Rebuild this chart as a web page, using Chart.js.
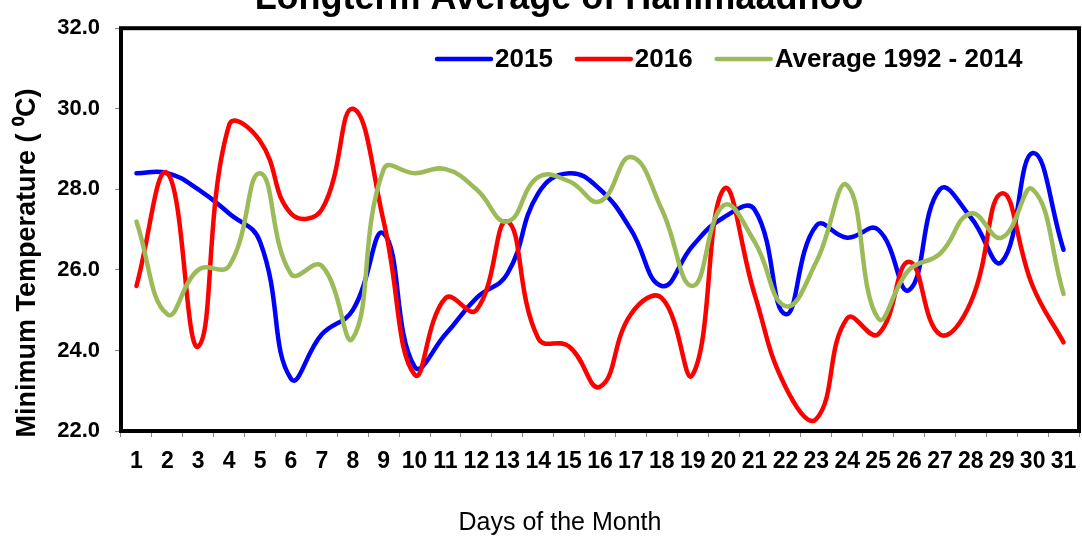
<!DOCTYPE html>
<html>
<head>
<meta charset="utf-8">
<script src="https://cdn.jsdelivr.net/npm/chart.js@4"></script>
<style>
  html, body { margin: 0; padding: 0; background: #fff; }
  #wrap { width: 1082px; height: 537px; }
</style>
</head>
<body>
<div id="wrap"><canvas id="tempChart" width="1082" height="537"></canvas></div>
<script>
const days = ["1", "2", "3", "4", "5", "6", "7", "8", "9", "10", "11", "12", "13", "14", "15", "16",
              "17", "18", "19", "20", "21", "22", "23", "24", "25", "26", "27", "28", "29", "30", "31"];

const temp2015 = [28.4, 28.4, 28.0, 27.4, 26.7, 23.3, 24.4, 25.0, 26.9, 23.6, 24.4, 25.3, 25.9, 27.9, 28.4, 28.0,
                  27.0, 25.6, 26.6, 27.3, 27.5, 24.9, 27.1, 26.8, 27.0, 25.5, 28.0, 27.3, 26.2, 28.9, 26.5];

const temp2016 = [25.6, 28.4, 24.1, 29.6, 29.2, 27.4, 27.5, 30.0, 27.2, 23.4, 25.3, 25.0, 27.2, 24.3, 24.1, 23.1,
                  24.9, 25.3, 23.4, 28.0, 25.4, 23.1, 22.3, 24.8, 24.4, 26.2, 24.4, 25.2, 27.9, 25.6, 24.2];

const tempAverage = [27.2, 24.9, 26.0, 26.1, 28.4, 25.9, 26.1, 24.3, 28.5, 28.4, 28.5, 28.0, 27.2, 28.3, 28.2, 27.7,
                     28.8, 27.5, 25.6, 27.6, 26.7, 25.1, 26.2, 28.1, 24.8, 26.0, 26.4, 27.4, 26.8, 28.0, 25.4];

const chartTitle = "Longterm Average of Hanimaadhoo";
const yTitle = "Minimum Temperature ( \u2070C)";
const xTitle = "Days of the Month";

const FONT = "'Liberation Sans', Arial, sans-serif";

// titles, legend and plot frame are drawn by hand (Excel-like placement)
const extras = {
    id: "extras",
    afterDraw(chart) {
        const { ctx, chartArea } = chart;
        ctx.save();

        ctx.strokeStyle = "#000";
        ctx.lineWidth = 4;
        ctx.strokeRect(chartArea.left, chartArea.top, chartArea.right - chartArea.left, chartArea.bottom - chartArea.top);

        // legend inside the plot, top right
        ctx.font = "bold 26px " + FONT;
        ctx.textAlign = "left";
        ctx.textBaseline = "middle";
        ctx.lineCap = "round";
        let x = 437;
        const y = 59;
        chart.data.datasets.forEach(ds => {
            ctx.strokeStyle = ds.borderColor;
            ctx.lineWidth = 4.5;
            ctx.beginPath();
            ctx.moveTo(x, y);
            ctx.lineTo(x + 54, y);
            ctx.stroke();
            ctx.fillStyle = "#000";
            ctx.fillText(ds.label, x + 58, y + 1);
            x += 58 + ctx.measureText(ds.label).width + 24;
        });

        ctx.fillStyle = "#000";
        ctx.textAlign = "center";
        ctx.textBaseline = "alphabetic";
        ctx.font = "bold 36px " + FONT;
        ctx.fillText(chartTitle, 559, 9);

        ctx.font = "25px " + FONT;
        ctx.fillText(xTitle, 560, 530);

        ctx.translate(28, 263);
        ctx.rotate(-Math.PI / 2);
        ctx.textBaseline = "middle";
        ctx.font = "bold 27px " + FONT;
        ctx.fillText(yTitle, 0, 0);

        ctx.restore();
    }
};

const ctx = document.getElementById("tempChart");

new Chart(ctx, {
    type: "line",
    data: {
        labels: days,
        datasets: [
            {
                label: "2015",
                data: temp2015,
                borderColor: "#0000FF",
                order: 3
            },
            {
                label: "2016",
                data: temp2016,
                borderColor: "#FF0000",
                order: 2
            },
            {
                label: "Average 1992 - 2014",
                data: tempAverage,
                borderColor: "#9BBB59",
                order: 1
            }
        ]
    },
    options: {
        responsive: false,
        animation: false,
        layout: {
            padding: { top: 19, right: 3, left: 0, bottom: 0 }
        },
        elements: {
            line: {
                borderWidth: 4.5,
                tension: 0.45,
                borderCapStyle: "round",
                borderJoinStyle: "round",
                fill: false
            },
            point: { radius: 0, hoverRadius: 0 }
        },
        plugins: {
            tooltip: { enabled: false },
            title: { display: false },
            legend: { display: false }
        },
        scales: {
            x: {
                offset: true,
                afterFit: s => {
                    s.height = 106;
                    s.paddingLeft = 0;
                    s.paddingRight = 0;
                },
                border: { display: false },
                grid: {
                    offset: true,
                    drawOnChartArea: false,
                    drawTicks: true,
                    tickLength: 6,
                    color: "#888"
                },
                ticks: {
                    color: "#000",
                    padding: 11,
                    maxRotation: 0,
                    autoSkip: false,
                    font: { family: FONT, size: 23, weight: "bold" }
                }
            },
            y: {
                min: 22,
                max: 32,
                afterFit: s => { s.width = 121; },
                border: { display: false },
                grid: {
                    drawOnChartArea: false,
                    drawTicks: true,
                    tickLength: 6,
                    color: "#888"
                },
                ticks: {
                    stepSize: 2,
                    color: "#000",
                    padding: 15,
                    font: { family: FONT, size: 22, weight: "bold" },
                    callback: v => v.toFixed(1)
                }
            }
        }
    },
    plugins: [extras]
});
</script>
</body>
</html>
